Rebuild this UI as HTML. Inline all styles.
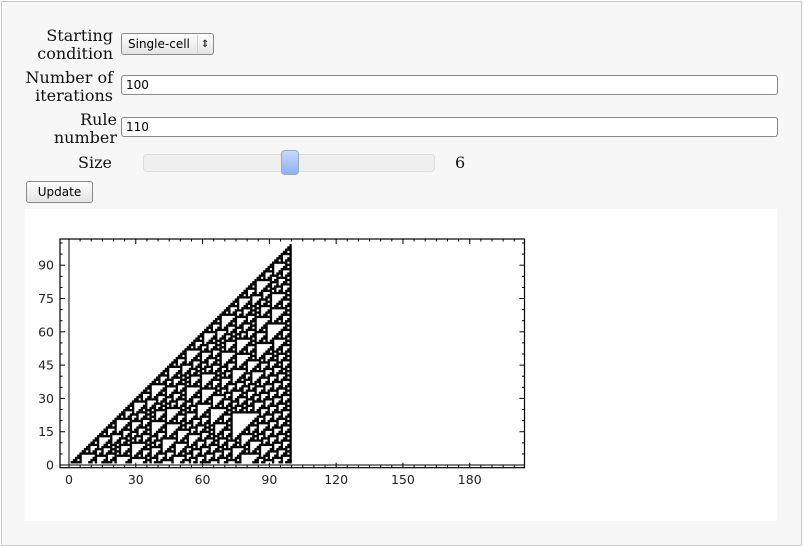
<!DOCTYPE html>
<html><head><meta charset="utf-8">
<style>
html,body{margin:0;padding:0;width:803px;height:546px;overflow:hidden;background:#fff;}
#outer{position:absolute;left:1px;top:1px;width:799px;height:543px;border:1px solid #c8c8c8;background:#f7f7f7;}
.lbl{position:absolute;font-family:"DejaVu Serif","Liberation Serif",serif;font-size:16px;color:#111;text-align:right;line-height:18px;}
.inp{position:absolute;height:20px;border:1px solid #888;border-radius:3px;background:#fff;font-family:"DejaVu Sans","Liberation Sans",sans-serif;font-size:12px;line-height:19px;padding-left:4px;box-sizing:border-box;}
.btn{position:absolute;border:1px solid #888;border-radius:3px;background:linear-gradient(#fdfdfd,#e4e4e4);font-family:"DejaVu Sans","Liberation Sans",sans-serif;font-size:12px;box-sizing:border-box;}
</style></head><body>
<div id="outer">
<div class="lbl" style="left:20px;top:25px;width:91px;">Starting<br>condition</div>
<div class="btn" style="left:119px;top:31px;width:93px;height:22px;line-height:20px;padding-left:6px;">Single-cell <span style="position:absolute;left:75px;top:1px;border-left:1px solid #ccc;height:18px;padding-left:3px;font-size:10px;">⇕</span></div>
<div class="lbl" style="left:10px;top:67px;width:101px;">Number of<br>iterations</div>
<div class="inp" style="left:119px;top:73px;width:657px;">100</div>
<div class="lbl" style="left:20px;top:109px;width:95px;">Rule<br>number</div>
<div class="inp" style="left:119px;top:115px;width:657px;">110</div>
<div class="lbl" style="left:20px;top:152px;width:90px;">Size</div>
<div style="position:absolute;left:141px;top:152px;width:290px;height:16px;border:1px solid #ddd;border-radius:4px;background:#efefef;"></div>
<div style="position:absolute;left:279px;top:148px;width:16px;height:23px;border:1px solid #9ab;border-radius:4px;background:linear-gradient(#c8d8ff,#8fb0f5);"></div>
<div class="lbl" style="left:453px;top:152px;width:20px;text-align:left;">6</div>
<div class="btn" style="left:24px;top:179px;width:67px;height:22px;line-height:20px;text-align:center;">Update</div>
</div>
<svg id="chart" width="803" height="546" style="position:absolute;left:0;top:0;">
<rect x="25" y="209" width="752" height="312" fill="#fff"/>
<g id="cells"></g>
<g id="axes"></g>
</svg>
<script>
const ruleNumber = [110];
const iterations = [100];
const startCells = [100];   // index of initial live cell
const gridWidth = [201];
const xTicks = [0,30,60,90,120,150,180];
const yTicks = [0,15,30,45,60,75,90];

const NS='http://www.w3.org/2000/svg';
const X0=60,X1=524.5,Y0=467.7,Y1=239;
const xmin=-4.04,xmax=204.6,ymin=-1.2,ymax=101.8;
function sx(v){return X0+(v-xmin)/(xmax-xmin)*(X1-X0);}
function sy(v){return Y0-(v-ymin)/(ymax-ymin)*(Y0-Y1);}
function mk(t,a){const e=document.createElementNS(NS,t);for(const k in a)e.setAttribute(k,a[k]);return e;}

const rule=ruleNumber[0],N=iterations[0],W=gridWidth[0];
let row=new Array(W).fill(0);startCells.forEach(i=>row[i]=1);
const rows=[row];
for(let t=0;t<N;t++){
  const nr=new Array(W).fill(0);
  for(let i=0;i<W;i++){
    const l=i>0?row[i-1]:0,c=row[i],r=i<W-1?row[i+1]:0;
    nr[i]=(rule>>(l*4+c*2+r))&1;
  }
  rows.push(nr);row=nr;
}
const cw=0.9826,ch=0.977,cx0=0.76,cy0=0.8;
const cg=document.getElementById('cells');
rows.forEach((rw,i)=>{
  const yb=cy0+(N-i)*ch;
  rw.forEach((v,j)=>{
    if(!v)return;
    const xl=cx0+j*cw;
    const x=sx(xl),y=sy(yb+ch);
    const c=mk('rect',{x:x.toFixed(2),y:y.toFixed(2),width:(sx(xl+cw)-x+0.15).toFixed(2),height:(sy(yb)-y+0.15).toFixed(2),fill:'#000'});
    
    
    cg.appendChild(c);
  });
});
const ag=document.getElementById('axes');
ag.appendChild(mk('rect',{x:X0,y:Y1,width:X1-X0,height:Y0-Y1,fill:'none',stroke:'#000','stroke-width':1.2}));
ag.appendChild(mk('line',{x1:sx(0),x2:sx(0),y1:Y1,y2:Y0,stroke:'#000','stroke-width':1}));
ag.appendChild(mk('line',{x1:X0,x2:X1,y1:sy(0),y2:sy(0),stroke:'#000','stroke-width':1}));
for(let v=0;v<=200;v+=5){const x=sx(v),maj=v%30===0,L=maj?5:2.5;
  ag.appendChild(mk('line',{x1:x,x2:x,y1:Y0,y2:Y0-L,stroke:'#000'}));
  ag.appendChild(mk('line',{x1:x,x2:x,y1:Y1,y2:Y1+L,stroke:'#000'}));}
for(let v=0;v<=100;v+=5){const y=sy(v),maj=v%15===0,L=maj?5:2.5;
  ag.appendChild(mk('line',{x1:X0,x2:X0+L,y1:y,y2:y,stroke:'#000'}));
  ag.appendChild(mk('line',{x1:X1,x2:X1-L,y1:y,y2:y,stroke:'#000'}));}
xTicks.forEach(v=>{const t=mk('text',{x:sx(v),y:484,'text-anchor':'middle','font-family':'DejaVu Sans, Liberation Sans, sans-serif','font-size':12.5,fill:'#222'});t.textContent=v;
  
  
  ag.appendChild(t);});
yTicks.forEach(v=>{const t=mk('text',{x:54,y:sy(v)+4.5,'text-anchor':'end','font-family':'DejaVu Sans, Liberation Sans, sans-serif','font-size':12.5,fill:'#222'});t.textContent=v;
  
  
  ag.appendChild(t);});
</script>
</body></html>
